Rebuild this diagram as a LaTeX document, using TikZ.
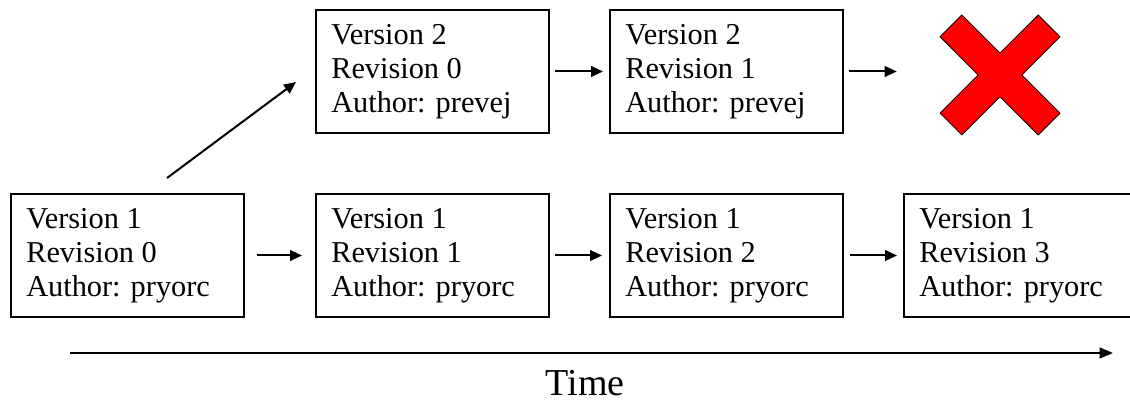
\documentclass[tikz,border=0pt]{standalone}
\usepackage{fontspec}
\setmainfont{Liberation Serif}
\usetikzlibrary{arrows.meta}
\begin{document}
\begin{tikzpicture}[x=0.75pt,y=-0.75pt,
  rev/.style={draw=black, line width=1.5pt, minimum width=174.75pt,
    minimum height=92.25pt, inner sep=0pt, anchor=north west},
  revtext/.style={anchor=west, align=left, inner sep=0pt,
    font=\fontsize{22.75}{25.5}\selectfont},
  arr/.style={line width=1.5pt, -{Triangle[length=9pt,width=8pt]}},
  xmark/.style={fill=red, draw=black, line width=0.6pt, line join=round},
]
\useasboundingbox (0,0) rectangle (1130,402);
\clip (0,0) rectangle (1130,402);

% revision boxes
\node[rev] (A)  at (10,193)  {};
\node[rev] (B)  at (315,193) {};
\node[rev] (C)  at (609,193) {};
\node[rev] (D)  at (903,193) {};
\node[rev] (B2) at (315,9)   {};
\node[rev] (C2) at (609,9)   {};

\node[revtext] (At)  at ([xshift=12pt]A.west)  {Version 1\\Revision 0\\Author: pryorc};
\node[revtext] (Bt)  at ([xshift=12pt]B.west)  {Version 1\\Revision 1\\Author: pryorc};
\node[revtext] (Ct)  at ([xshift=12pt]C.west)  {Version 1\\Revision 2\\Author: pryorc};
\node[revtext] (Dt)  at ([xshift=12pt]D.west)  {Version 1\\Revision 3\\Author: pryorc};
\node[revtext] (B2t) at ([xshift=12pt]B2.west) {Version 2\\Revision 0\\Author: prevej};
\node[revtext] (C2t) at ([xshift=12pt]C2.west) {Version 2\\Revision 1\\Author: prevej};

% discarded branch mark
\node[minimum size=90pt, inner sep=0pt] (X) at (1000,75) {};
\begin{scope}[shift={(X.center)}]
  \draw[xmark] (-60,-38.2) -- (-38.2,-60) -- (0,-21.9) -- (38.2,-60) -- (60,-38.2)
    -- (21.9,0) -- (60,38.2) -- (38.2,60) -- (0,21.9) -- (-38.2,60) -- (-60,38.2)
    -- (-21.9,0) -- cycle;
\end{scope}
\coordinate (xin) at ([xshift=-32.25pt]X.west);

% revision arrows
\draw[arr, shorten <=9pt, shorten >=9.75pt] (A) -- (B);
\draw[arr, shorten <=3.75pt, shorten >=5.25pt] (B) -- (C);
\draw[arr, shorten <=4.5pt, shorten >=4.5pt] (C) -- (D);
\draw[arr, shorten <=3.75pt, shorten >=4.5pt] (B2) -- (C2);
\draw[arr, shorten <=3.75pt] (C2) -- (C2 -| xin);

% branch arrow
\coordinate (br0) at (167,178);
\coordinate (br1) at (296,82);
\draw[arr] (br0) -- (br1);

% time axis
\coordinate (t0) at (70,353);
\coordinate (t1) at (1113,353);
\draw[line width=1.8pt, -{Triangle[length=10pt,width=8pt]}] (t0) -- (t1);
\node[font=\fontsize{28.5}{32}\selectfont, inner sep=0pt] (time) at (585,383) {Time};
\end{tikzpicture}
\end{document}
